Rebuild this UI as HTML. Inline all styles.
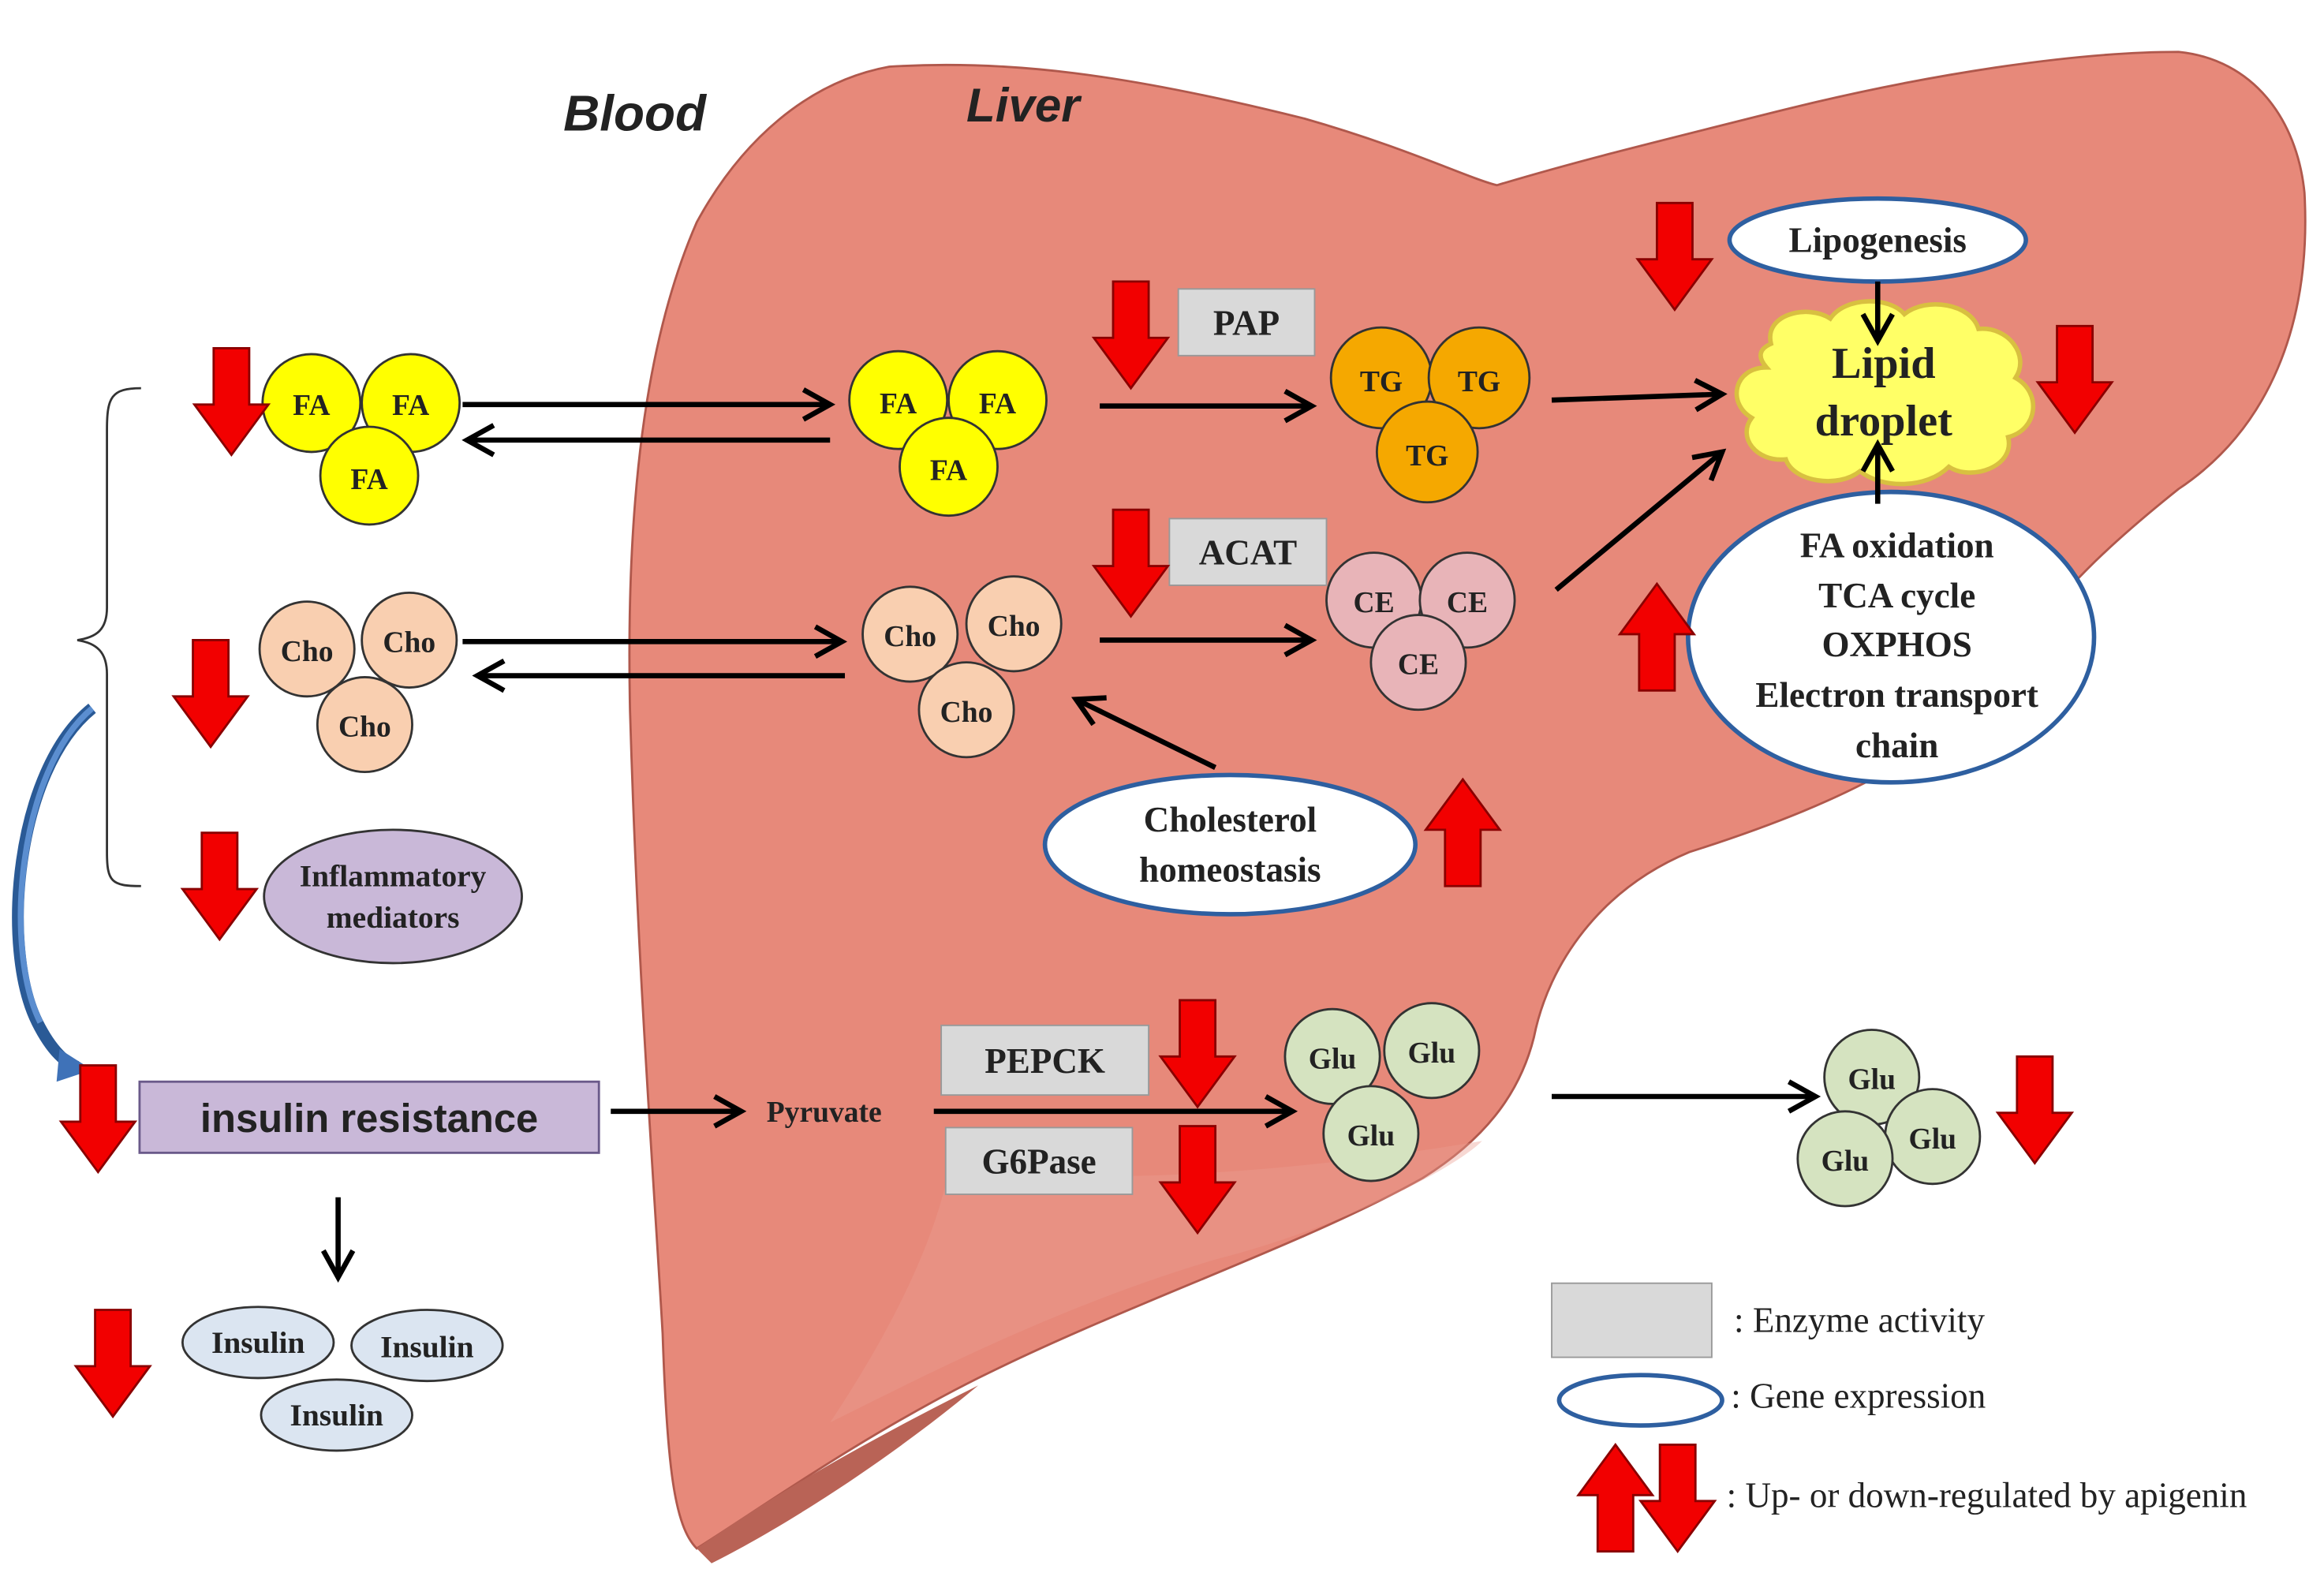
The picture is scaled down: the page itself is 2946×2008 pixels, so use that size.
<!DOCTYPE html>
<html><head><meta charset="utf-8"><style>
html,body{margin:0;padding:0;background:#fff;}
svg{display:block;}
text{font-family:"Liberation Serif",serif;font-weight:bold;fill:#222;}
</style></head><body>
<svg width="2946" height="2008" viewBox="0 0 1568 1069" xmlns="http://www.w3.org/2000/svg">
<defs>
<marker id="ah2" markerWidth="24" markerHeight="24" refX="20" refY="12" orient="auto" markerUnits="userSpaceOnUse" viewBox="0 0 24 24">
<path d="M2,2 L20,12 L2,22" fill="none" stroke="#000" stroke-width="3.5"/></marker>
<g id="dn"><path d="M-12,-38 L12,-38 L12,0 L25,0 L0,34 L-25,0 L-12,0 Z" fill="#f20000" stroke="#8a0000" stroke-width="1.5"/></g>
<g id="up"><path d="M-12,38 L12,38 L12,0 L25,0 L0,-34 L-25,0 L-12,0 Z" fill="#f20000" stroke="#8a0000" stroke-width="1.5"/></g>
</defs>
<!-- liver -->
<path d="M600,45 C680,40 760,50 880,80 C950,100 990,120 1010,125 C1060,110 1100,100 1200,75 C1300,50 1400,35 1470,35 C1520,40 1550,80 1555,130 C1560,220 1530,290 1470,330 C1420,370 1390,400 1370,430 C1330,500 1250,540 1140,575 C1080,600 1045,650 1035,700 C1025,740 1000,770 960,795 C880,840 760,880 660,930 C580,970 510,1020 470,1045 C455,1030 450,990 447,900 C440,780 430,650 425,480 C422,340 435,230 470,150 C500,95 545,55 600,45 Z" fill="#e7897a" stroke="#b0584c" stroke-width="1.5"/>
<path d="M640,790 C760,800 880,790 1000,770 C980,790 900,830 820,850 C720,880 640,920 560,960 C600,900 630,840 640,790 Z" fill="#ec9e91" opacity="0.4"/>
<path d="M470,1045 C520,1010 580,975 660,935 C600,985 530,1030 480,1055 Z" fill="#b96356"/>
<!-- titles -->
<text x="380" y="88" font-style="italic" font-size="34" style="font-family:'Liberation Sans',sans-serif">Blood</text>
<text x="652" y="82" font-style="italic" font-size="32" style="font-family:'Liberation Sans',sans-serif">Liver</text>
<!-- bracket -->
<path d="M95,262 C75,262 72,268 72,290 L72,410 C72,425 65,430 52,432 C65,434 72,440 72,455 L72,575 C72,595 75,598 95,598" fill="none" stroke="#333" stroke-width="1.5"/>
<!-- blue curved arrow -->
<path d="M62,478 C10,520 0,640 25,690 C35,710 45,718 52,720" fill="none" stroke="#2a5a96" stroke-width="8"/>
<path d="M62,478 C12,520 2,640 27,690" fill="none" stroke="#5b8ed0" stroke-width="4"/>
<path d="M40,708 L62,722 L38,730 Z" fill="#3f72b8"/>
<g font-size="20" text-anchor="middle">
<circle cx="210" cy="272" r="33" fill="#ffff00" stroke="#333" stroke-width="1.5"/><text x="210" y="280">FA</text>
<circle cx="277" cy="272" r="33" fill="#ffff00" stroke="#333" stroke-width="1.5"/><text x="277" y="280">FA</text>
<circle cx="249" cy="321" r="33" fill="#ffff00" stroke="#333" stroke-width="1.5"/><text x="249" y="330">FA</text>
<circle cx="606" cy="270" r="33" fill="#ffff00" stroke="#333" stroke-width="1.5"/><text x="606" y="279">FA</text>
<circle cx="673" cy="270" r="33" fill="#ffff00" stroke="#333" stroke-width="1.5"/><text x="673" y="279">FA</text>
<circle cx="640" cy="315" r="33" fill="#ffff00" stroke="#333" stroke-width="1.5"/><text x="640" y="324">FA</text>
<circle cx="932" cy="255" r="34" fill="#f5a800" stroke="#333" stroke-width="1.5"/><text x="932" y="264">TG</text>
<circle cx="998" cy="255" r="34" fill="#f5a800" stroke="#333" stroke-width="1.5"/><text x="998" y="264">TG</text>
<circle cx="963" cy="305" r="34" fill="#f5a800" stroke="#333" stroke-width="1.5"/><text x="963" y="314">TG</text>
<circle cx="207" cy="438" r="32" fill="#f9cfb0" stroke="#333" stroke-width="1.5"/><text x="207" y="446">Cho</text>
<circle cx="276" cy="432" r="32" fill="#f9cfb0" stroke="#333" stroke-width="1.5"/><text x="276" y="440">Cho</text>
<circle cx="246" cy="489" r="32" fill="#f9cfb0" stroke="#333" stroke-width="1.5"/><text x="246" y="497">Cho</text>
<circle cx="614" cy="428" r="32" fill="#f9cfb0" stroke="#333" stroke-width="1.5"/><text x="614" y="436">Cho</text>
<circle cx="684" cy="421" r="32" fill="#f9cfb0" stroke="#333" stroke-width="1.5"/><text x="684" y="429">Cho</text>
<circle cx="652" cy="479" r="32" fill="#f9cfb0" stroke="#333" stroke-width="1.5"/><text x="652" y="487">Cho</text>
<circle cx="927" cy="405" r="32" fill="#e8b4b8" stroke="#333" stroke-width="1.5"/><text x="927" y="413">CE</text>
<circle cx="990" cy="405" r="32" fill="#e8b4b8" stroke="#333" stroke-width="1.5"/><text x="990" y="413">CE</text>
<circle cx="957" cy="447" r="32" fill="#e8b4b8" stroke="#333" stroke-width="1.5"/><text x="957" y="455">CE</text>
<circle cx="899" cy="713" r="32" fill="#d5e3c0" stroke="#333" stroke-width="1.5"/><text x="899" y="721">Glu</text>
<circle cx="966" cy="709" r="32" fill="#d5e3c0" stroke="#333" stroke-width="1.5"/><text x="966" y="717">Glu</text>
<circle cx="925" cy="765" r="32" fill="#d5e3c0" stroke="#333" stroke-width="1.5"/><text x="925" y="773">Glu</text>
<circle cx="1263" cy="727" r="32" fill="#d5e3c0" stroke="#333" stroke-width="1.5"/><text x="1263" y="735">Glu</text>
<circle cx="1304" cy="767" r="32" fill="#d5e3c0" stroke="#333" stroke-width="1.5"/><text x="1304" y="775">Glu</text>
<circle cx="1245" cy="782" r="32" fill="#d5e3c0" stroke="#333" stroke-width="1.5"/><text x="1245" y="790">Glu</text>
</g>
<!-- enzyme boxes -->
<g font-size="24" text-anchor="middle">
<rect x="795" y="195" width="92" height="45" fill="#d9d9d9" stroke="#999"/><text x="841" y="226">PAP</text>
<rect x="789" y="350" width="106" height="45" fill="#d9d9d9" stroke="#999"/><text x="842" y="381">ACAT</text>
<rect x="635" y="692" width="140" height="47" fill="#d9d9d9" stroke="#999"/><text x="705" y="724">PEPCK</text>
<rect x="638" y="761" width="126" height="45" fill="#d9d9d9" stroke="#999"/><text x="701" y="792">G6Pase</text>
</g>
<text x="556" y="757" font-size="20" text-anchor="middle">Pyruvate</text>
<!-- lipid droplet cloud -->
<path d="M1195,232 C1190,212 1220,205 1235,215 C1245,200 1275,200 1285,212 C1300,200 1330,205 1335,222 C1355,220 1370,240 1360,255 C1378,265 1375,290 1355,295 C1360,315 1330,325 1315,315 C1300,330 1270,330 1255,318 C1240,330 1210,325 1205,310 C1185,312 1172,295 1182,282 C1165,272 1170,248 1192,248 C1185,240 1188,235 1195,232 Z" fill="#ffff66" stroke="#d8c040" stroke-width="3"/>
<text x="1271" y="255" font-size="30" text-anchor="middle">Lipid</text>
<text x="1271" y="294" font-size="30" text-anchor="middle">droplet</text>
<ellipse cx="1267" cy="162" rx="100" ry="28" fill="#fff" stroke="#2e5fa0" stroke-width="3"/>
<text x="1267" y="170" font-size="24" text-anchor="middle">Lipogenesis</text>
<ellipse cx="1276" cy="430" rx="137" ry="98" fill="#fff" stroke="#2e5fa0" stroke-width="3"/>
<g font-size="24" text-anchor="middle">
<text x="1280" y="376">FA oxidation</text>
<text x="1280" y="410">TCA cycle</text>
<text x="1280" y="443">OXPHOS</text>
<text x="1280" y="477">Electron transport</text>
<text x="1280" y="511">chain</text>
</g>
<ellipse cx="830" cy="570" rx="125" ry="47" fill="#fff" stroke="#2e5fa0" stroke-width="3"/>
<text x="830" y="561" font-size="24" text-anchor="middle">Cholesterol</text>
<text x="830" y="595" font-size="24" text-anchor="middle">homeostasis</text>
<ellipse cx="265" cy="605" rx="87" ry="45" fill="#c9b8d8" stroke="#333" stroke-width="1.5"/>
<text x="265" y="598" font-size="21" text-anchor="middle">Inflammatory</text>
<text x="265" y="626" font-size="21" text-anchor="middle">mediators</text>
<rect x="94" y="730" width="310" height="48" fill="#c9b8d8" stroke="#6a5a8a" stroke-width="1.5"/>
<text x="249" y="764" font-size="27" text-anchor="middle" style="font-family:'Liberation Sans',sans-serif">insulin resistance</text>
<g font-size="21" text-anchor="middle">
<ellipse cx="174" cy="906" rx="51" ry="24" fill="#dbe5f1" stroke="#333" stroke-width="1.5"/><text x="174" y="913">Insulin</text>
<ellipse cx="288" cy="908" rx="51" ry="24" fill="#dbe5f1" stroke="#333" stroke-width="1.5"/><text x="288" y="916">Insulin</text>
<ellipse cx="227" cy="955" rx="51" ry="24" fill="#dbe5f1" stroke="#333" stroke-width="1.5"/><text x="227" y="962">Insulin</text>
</g>
<!-- arrows -->
<g stroke="#000" stroke-width="3.5" fill="none">
<line x1="312" y1="273" x2="560" y2="273" marker-end="url(#ah2)"/>
<line x1="560" y1="297" x2="315" y2="297" marker-end="url(#ah2)"/>
<line x1="312" y1="433" x2="568" y2="433" marker-end="url(#ah2)"/>
<line x1="570" y1="456" x2="322" y2="456" marker-end="url(#ah2)"/>
<line x1="742" y1="274" x2="885" y2="274" marker-end="url(#ah2)"/>
<line x1="742" y1="432" x2="885" y2="432" marker-end="url(#ah2)"/>
<line x1="1047" y1="270" x2="1162" y2="266" marker-end="url(#ah2)"/>
<line x1="1050" y1="398" x2="1162" y2="305" marker-end="url(#ah2)"/>
<line x1="820" y1="518" x2="726" y2="472" marker-end="url(#ah2)"/>
<line x1="412" y1="750" x2="500" y2="750" marker-end="url(#ah2)"/>
<line x1="630" y1="750" x2="872" y2="750" marker-end="url(#ah2)"/>
<line x1="1047" y1="740" x2="1225" y2="740" marker-end="url(#ah2)"/>
<line x1="228" y1="808" x2="228" y2="862" marker-end="url(#ah2)"/>
<line x1="1267" y1="190" x2="1267" y2="230" marker-end="url(#ah2)"/>
<line x1="1267" y1="340" x2="1267" y2="300" marker-end="url(#ah2)"/>
</g>
<use href="#dn" x="156" y="273"/>
<use href="#dn" x="142" y="470"/>
<use href="#dn" x="148" y="600"/>
<use href="#dn" x="66" y="757"/>
<use href="#dn" x="76" y="922"/>
<use href="#dn" x="763" y="228"/>
<use href="#dn" x="763" y="382"/>
<use href="#dn" x="1130" y="175"/>
<use href="#dn" x="1400" y="258"/>
<use href="#dn" x="808" y="713"/>
<use href="#dn" x="808" y="798"/>
<use href="#dn" x="1373" y="751"/>
<use href="#up" x="1118" y="428"/>
<use href="#up" x="987" y="560"/>
<!-- legend -->
<rect x="1047" y="866" width="108" height="50" fill="#d9d9d9" stroke="#999"/>
<text x="1170" y="899" font-size="24" style="font-weight:normal">: Enzyme activity</text>
<ellipse cx="1107" cy="945" rx="55" ry="17" fill="#fff" stroke="#2e5fa0" stroke-width="3"/>
<text x="1168" y="950" font-size="24" style="font-weight:normal">: Gene expression</text>
<use href="#up" x="1090" y="1009"/>
<use href="#dn" x="1132" y="1013"/>
<text x="1165" y="1017" font-size="24" style="font-weight:normal">: Up- or down-regulated by apigenin</text>
</svg>
</body></html>
